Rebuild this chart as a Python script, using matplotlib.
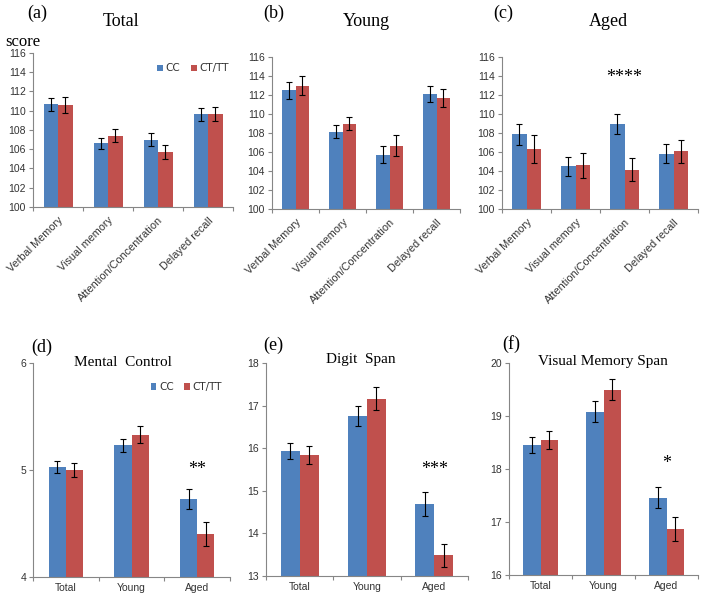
import matplotlib
matplotlib.use('Agg')
import matplotlib.pyplot as plt
import numpy as np

# data
categories_top = ['Verbal Memory', 'Visual memory', 'Attention/Concentration', 'Delayed recall']
total_cc = [110.66, 106.62, 107.00, 109.62]
total_cc_err = [0.68, 0.60, 0.66, 0.66]
total_ct = [110.56, 107.42, 105.71, 109.69]
total_ct_err = [0.84, 0.65, 0.75, 0.75]
young_cc = [112.48, 108.11, 105.73, 112.13]
young_cc_err = [0.90, 0.68, 0.90, 0.82]
young_ct = [112.97, 108.99, 106.68, 111.71]
young_ct_err = [1.00, 0.72, 1.07, 0.94]
aged_cc = [107.87, 104.48, 108.95, 105.84]
aged_cc_err = [1.12, 1.03, 1.01, 1.01]
aged_ct = [106.33, 104.62, 104.13, 106.08]
aged_ct_err = [1.50, 1.31, 1.19, 1.20]

groups = ['Total', 'Young', 'Aged']
mental_cc = [5.03, 5.23, 4.73]
mental_cc_err = [0.056, 0.06, 0.09]
mental_ct = [5.00, 5.33, 4.40]
mental_ct_err = [0.07, 0.08, 0.11]
digit_cc = [15.94, 16.76, 14.69]
digit_cc_err = [0.19, 0.24, 0.28]
digit_ct = [15.84, 17.16, 13.49]
digit_ct_err = [0.22, 0.27, 0.27]
vms_cc = [18.45, 19.08, 17.46]
vms_cc_err = [0.15, 0.20, 0.20]
vms_ct = [18.55, 19.50, 16.87]
vms_ct_err = [0.175, 0.20, 0.23]

W, H = 703, 599
blue = '#4F81BD'
red = '#C0504D'
axis_gray = '#868686'
text_gray = '#333333'
serif = 'Liberation Serif'
sans = 'Liberation Sans'

fig = plt.figure(figsize=(W / 100, H / 100), dpi=100)
fig.patch.set_facecolor('white')


def px_axes(x0, y0, x1, y1):
    # pixel box (top-left origin) -> figure axes
    return fig.add_axes([x0 / W, (H - y1) / H, (x1 - x0) / W, (y1 - y0) / H])


def bar_panel(ax, cats, cc, cc_err, ct, ct_err, ylim, yticks, rot, bw):
    x = np.arange(len(cats))
    ax.bar(x - bw / 2, cc, bw, color=blue, label='CC', zorder=2)
    ax.bar(x + bw / 2, ct, bw, color=red, label='CT/TT', zorder=2)
    ax.errorbar(x - bw / 2, cc, yerr=cc_err, fmt='none', ecolor='black',
                elinewidth=0.8, capsize=2.2, capthick=0.8, zorder=3)
    ax.errorbar(x + bw / 2, ct, yerr=ct_err, fmt='none', ecolor='black',
                elinewidth=0.8, capsize=2.2, capthick=0.8, zorder=3)
    ax.set_xlim(-0.5, len(cats) - 0.5)
    ax.set_ylim(*ylim)
    ax.set_yticks(yticks)
    ax.set_yticklabels([str(t) for t in yticks], fontsize=7.5, color=text_gray,
                       family=sans)
    ax.set_xticks(np.arange(len(cats) + 1) - 0.5)
    ax.set_xticklabels([])
    ax.set_xticks(x, minor=True)
    if rot:
        ax.set_xticklabels(cats, minor=True, rotation=45, ha='right',
                           rotation_mode='anchor', fontsize=7.8,
                           color=text_gray, family=sans)
        ax.tick_params(axis='x', which='minor', length=0, pad=6)
    else:
        ax.set_xticklabels(cats, minor=True, fontsize=7.5, color=text_gray,
                           family=sans)
        ax.tick_params(axis='x', which='minor', length=0, pad=4)
    ax.tick_params(axis='x', which='major', length=3, color=axis_gray, width=0.8)
    ax.tick_params(axis='y', length=3, color=axis_gray, width=0.8, pad=2)
    for s in ['top', 'right']:
        ax.spines[s].set_visible(False)
    for s in ['left', 'bottom']:
        ax.spines[s].set_color(axis_gray)
        ax.spines[s].set_linewidth(0.8)


def add_legend(ax, anchor):
    leg = ax.legend(loc='upper right', bbox_to_anchor=anchor, ncol=2,
                    frameon=False, fontsize=7.5, handlelength=0.55,
                    handleheight=0.55, handletextpad=0.25, columnspacing=1.0,
                    borderaxespad=0)
    for t in leg.get_texts():
        t.set_color(text_gray)


top_ticks = list(range(100, 117, 2))

ax_a = px_axes(33, 53, 233, 207)
bar_panel(ax_a, categories_top, total_cc, total_cc_err, total_ct, total_ct_err,
          (100, 116), top_ticks, True, 0.29)
add_legend(ax_a, (1.0, 0.96))

ax_b = px_axes(272, 57, 460, 209)
bar_panel(ax_b, categories_top, young_cc, young_cc_err, young_ct, young_ct_err,
          (100, 116), top_ticks, True, 0.29)

ax_c = px_axes(502, 57, 698, 209)
bar_panel(ax_c, categories_top, aged_cc, aged_cc_err, aged_ct, aged_ct_err,
          (100, 116), top_ticks, True, 0.29)
ax_c.text(2, 113.8, '****', ha='center', va='center', fontsize=13, family=serif)

ax_d = px_axes(33, 363, 230, 577)
bar_panel(ax_d, groups, mental_cc, mental_cc_err, mental_ct, mental_ct_err,
          (4, 6), [4, 5, 6], False, 0.26)
add_legend(ax_d, (0.98, 0.93))
ax_d.text(2, 5.0, '**', ha='center', va='center', fontsize=13, family=serif)

ax_e = px_axes(266, 363, 468, 576)
bar_panel(ax_e, groups, digit_cc, digit_cc_err, digit_ct, digit_ct_err,
          (13, 18), [13, 14, 15, 16, 17, 18], False, 0.28)
ax_e.text(2, 15.5, '***', ha='center', va='center', fontsize=13, family=serif)

ax_f = px_axes(509, 363, 698, 575)
bar_panel(ax_f, groups, vms_cc, vms_cc_err, vms_ct, vms_ct_err,
          (16, 20), [16, 17, 18, 19, 20], False, 0.28)
ax_f.text(2, 18.1, '*', ha='center', va='center', fontsize=13, family=serif)


def ftext(x, y, s, size, va='center'):
    fig.text(x / W, 1 - y / H, s, fontsize=size, family=serif,
             ha='center', va=va)


ftext(37, 13, '(a)', 13)
ftext(121, 22, 'Total', 13)
ftext(274, 13, '(b)', 13)
ftext(366, 21, 'Young', 13)
ftext(503, 13, '(c)', 13)
ftext(608, 22, 'Aged', 13)
ftext(23, 46, 'score', 12, va='baseline')

ftext(42, 347, '(d)', 13)
ftext(123, 362, 'Mental  Control', 11)
ftext(273, 345, '(e)', 13)
ftext(361, 360, 'Digit  Span', 11)
ftext(511, 344, '(f)', 13)
ftext(603, 361, 'Visual Memory Span', 11)

fig.savefig('out.png', dpi=100, facecolor='white')
